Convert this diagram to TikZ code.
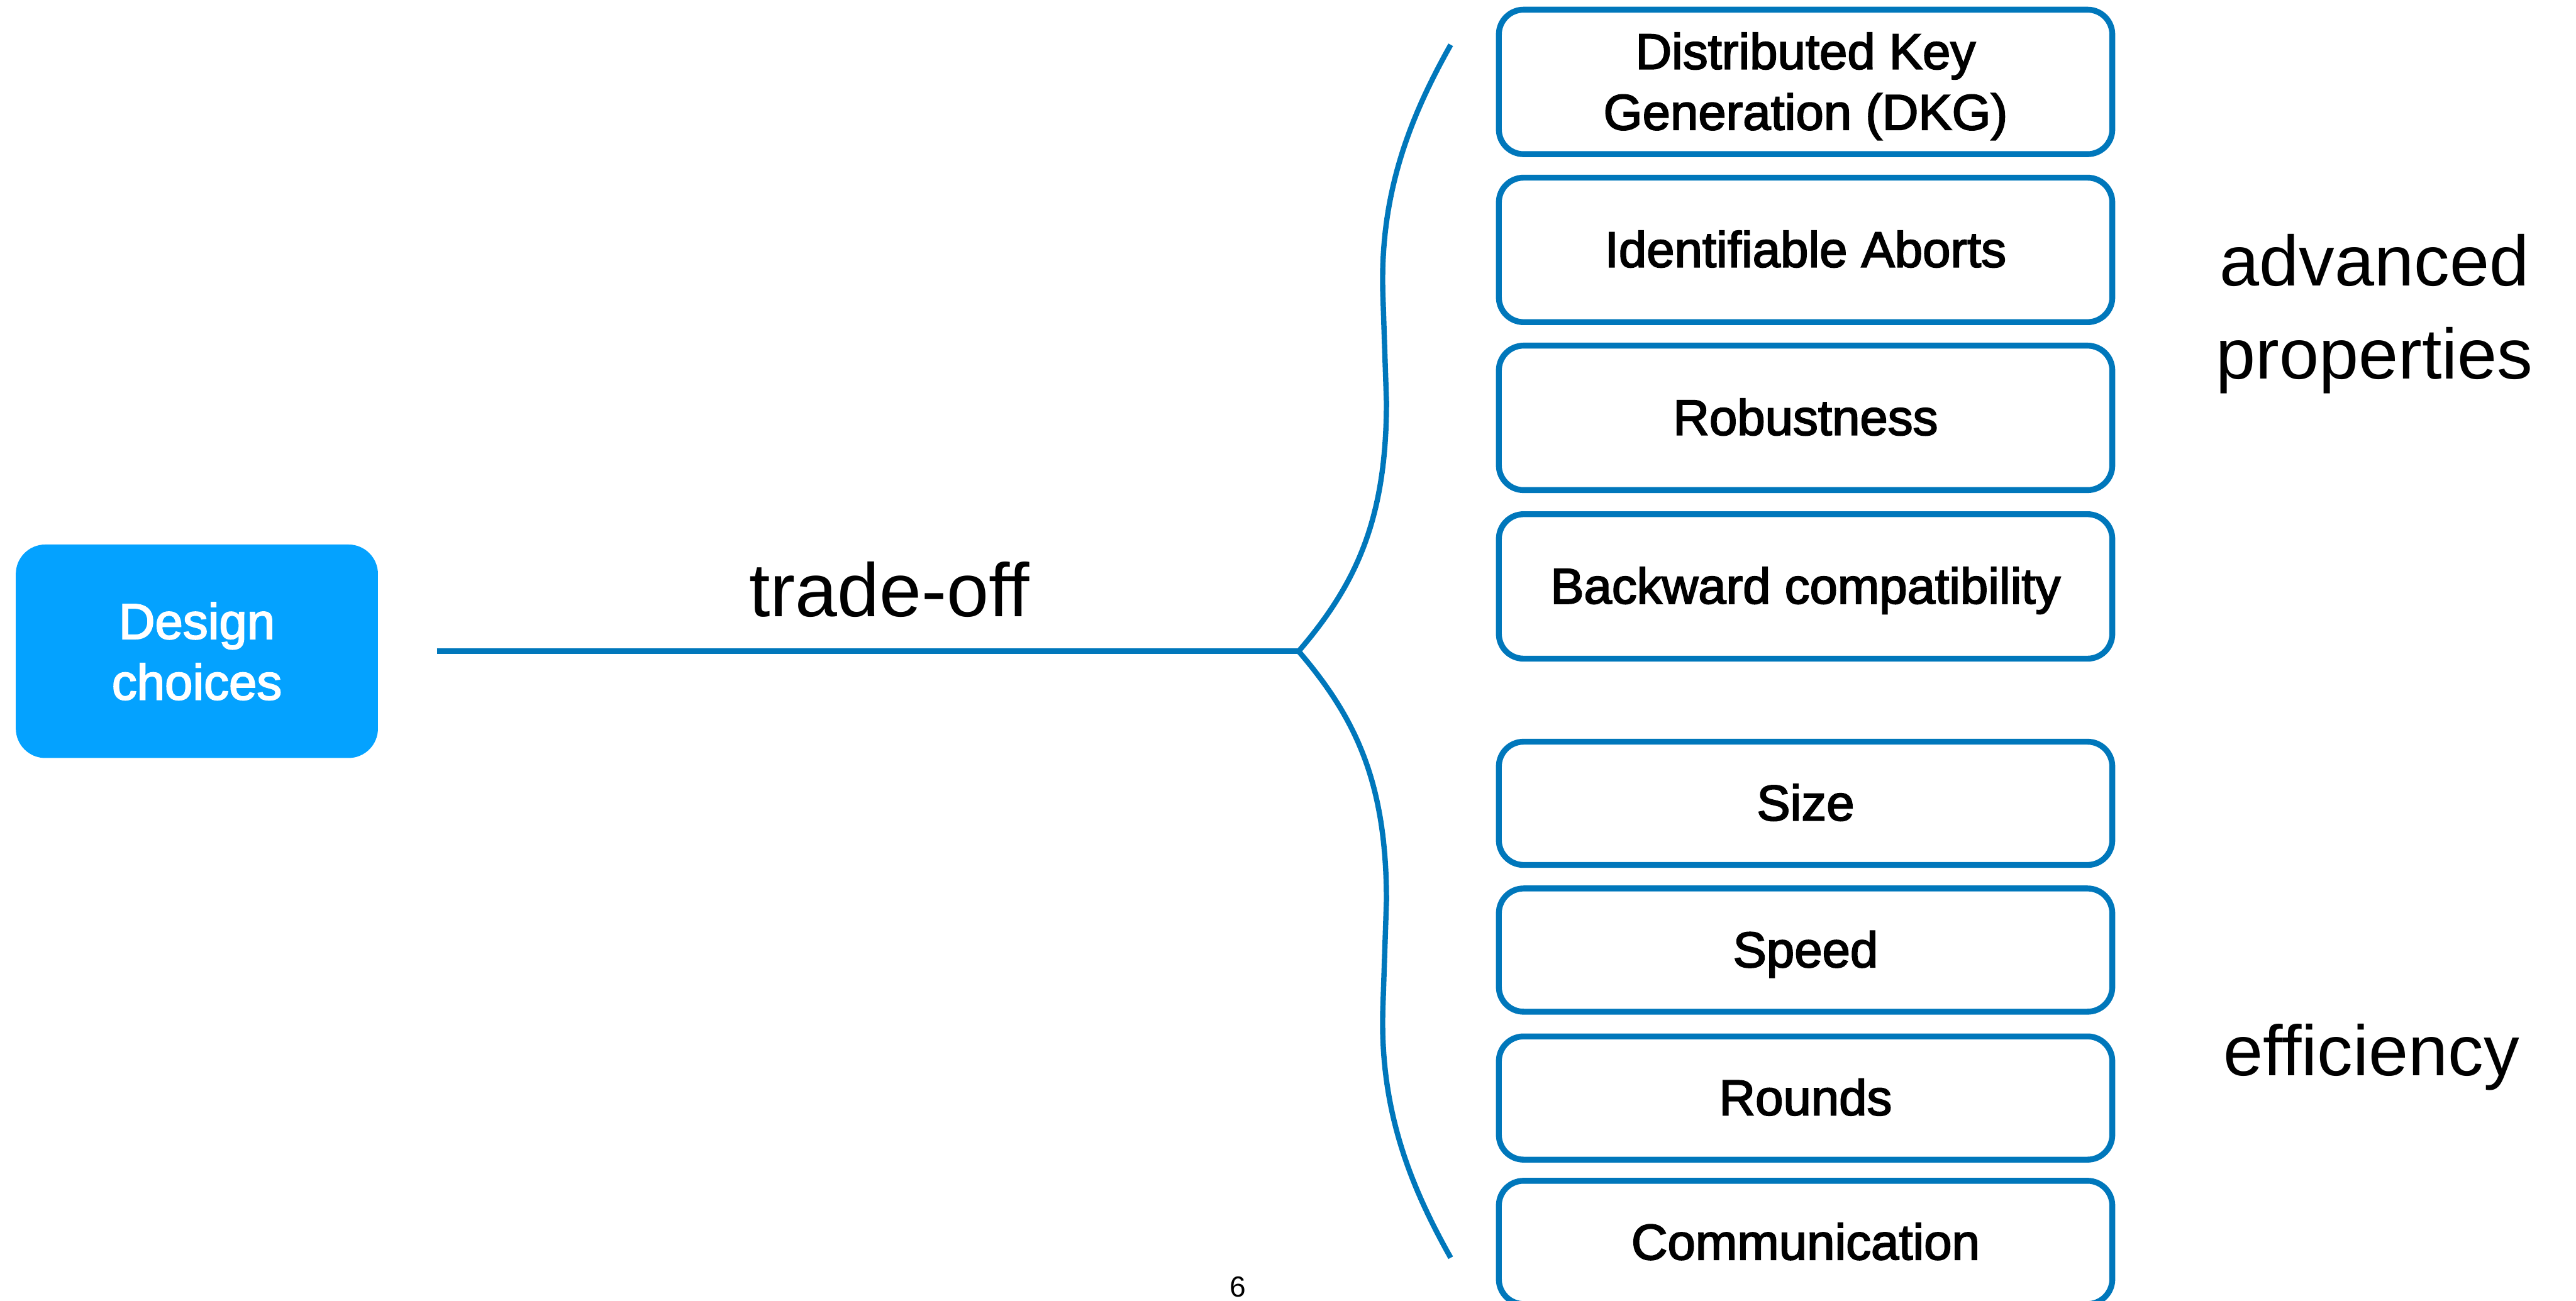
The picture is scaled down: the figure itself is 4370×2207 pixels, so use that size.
\documentclass[tikz,border=0pt]{standalone}
\usepackage{fontspec}
\setmainfont{Liberation Sans}
\newfontfamily\medfont[FakeBold=2.5]{Liberation Sans}
\definecolor{lineblue}{RGB}{0,119,187}
\definecolor{fillblue}{RGB}{4,162,255}
\begin{document}
\begin{tikzpicture}[x=0.01cm,y=-0.01cm,
  choicebox/.style={rectangle, rounded corners=0.42cm, draw=lineblue, line width=0.1cm, minimum width=10.4cm, inner sep=0pt},
  upbox/.style={choicebox, minimum height=2.45cm},
  lowbox/.style={choicebox, minimum height=2.09cm},
  boxtext/.style={anchor=base, align=center, inner sep=0pt, font=\medfont\fontsize{24.2}{29.3}\selectfont},
  biglabel/.style={anchor=base, align=center, inner sep=0pt, font=\fontsize{34.4}{45}\selectfont},
  conn/.style={draw=lineblue, line width=0.09cm}
]
\useasboundingbox (0,0) rectangle (4370,2207);

% design choices
\node[rectangle, rounded corners=0.5cm, fill=fillblue, minimum width=6.14cm, minimum height=3.62cm, inner sep=0pt] (design) at (334,1105) {};
\node[boxtext, text=white] (designtxt) at (334,1187) {Design\\choices};

% boxes
\node[upbox] (b1) at (3063,139) {};
\node[upbox] (b2) at (3063,424) {};
\node[upbox] (b3) at (3063,709) {};
\node[upbox] (b4) at (3063,995) {};
\node[lowbox] (b5) at (3063,1363) {};
\node[lowbox] (b6) at (3063,1612) {};
\node[lowbox] (b7) at (3063,1863) {};
\node[lowbox] (b8) at (3063,2108) {};

\node[boxtext] (t1) at (3063,220) {Distributed Key\\Generation (DKG)};
\node[boxtext] (t2) at (3063,453) {Identifiable Aborts};
\node[boxtext] (t3) at (3063,738) {Robustness};
\node[boxtext] (t4) at (3063,1024) {Backward compatibility};
\node[boxtext] (t5) at (3063,1392) {Size};
\node[boxtext] (t6) at (3063,1641) {Speed};
\node[boxtext] (t7) at (3063,1892) {Rounds};
\node[boxtext] (t8) at (3063,2137) {Communication};

% labels
\node[biglabel, font=\fontsize{36.5}{45}\selectfont] (tradeoff) at (1509,1046) {trade-off};
\node[biglabel] (adv) at (4028,643) {advanced\\properties};
\node[biglabel] (eff) at (4023,1825) {efficiency};
\node[anchor=base, inner sep=0pt, font=\fontsize{14}{16}\selectfont] (pagenum) at (2100,2200) {6};

% connectors
\coordinate (L) at (741,1105);
\coordinate (J) at (2203,1105);
\coordinate (T) at (2461,76);
\coordinate (B) at (2461,2134);
\draw[conn] (L) -- (J);
\draw[conn] (J) .. controls (2300,992) and (2352,882) .. (2352,682) -- (2346,502) .. controls (2340,332) and (2390,202) .. (T);
\draw[conn] (J) .. controls (2300,1218) and (2352,1328) .. (2352,1528) -- (2346,1708) .. controls (2340,1878) and (2390,2008) .. (B);
\end{tikzpicture}
\end{document}
